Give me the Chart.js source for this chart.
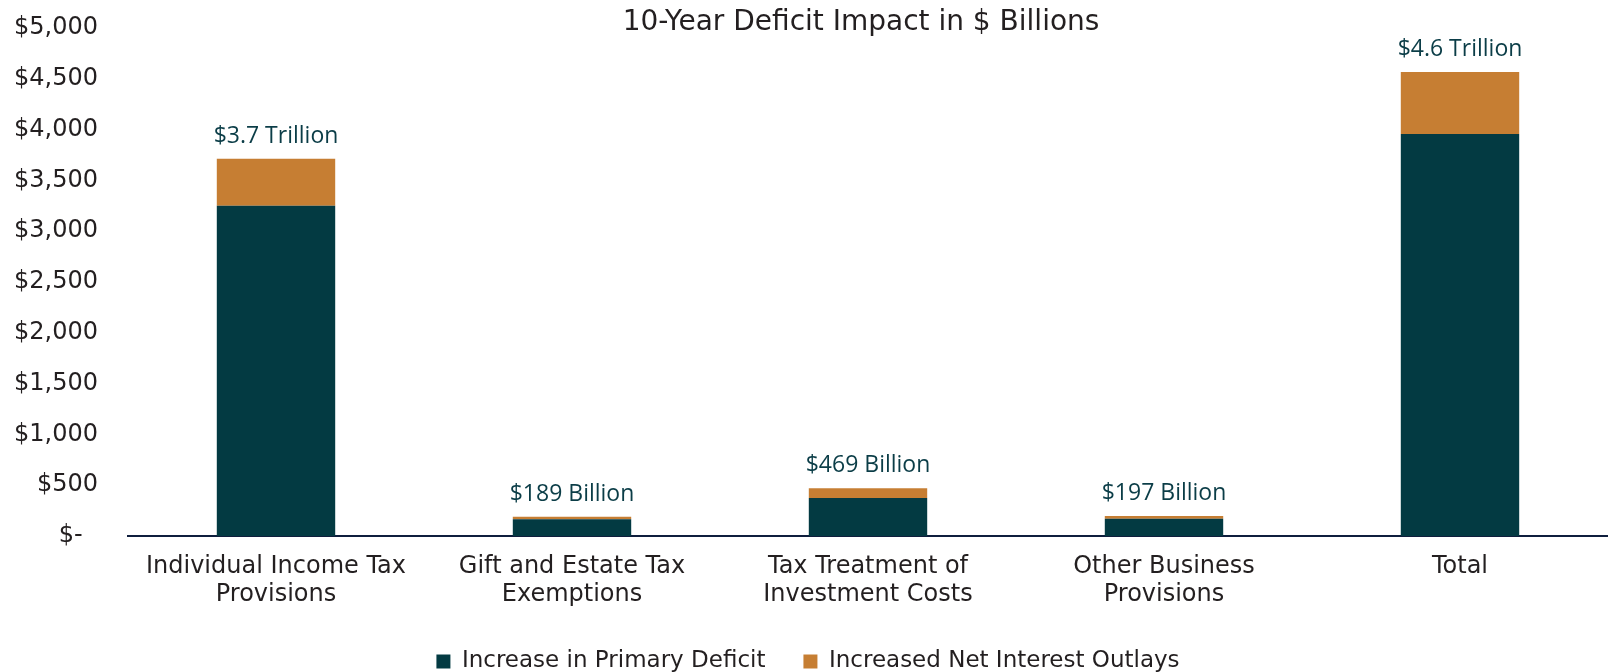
<!DOCTYPE html>
<html>
<head>
<meta charset="utf-8">
<script src="https://cdn.jsdelivr.net/npm/chart.js@4"></script>
<style>
  html, body { margin: 0; padding: 0; background: #fff; }
  #wrap { width: 1608px; height: 672px; position: relative; }
</style>
</head>
<body>
<div id="wrap"><canvas id="myChart"></canvas></div>
<script>
// data ($ billions)
const categories = [
    ['Individual Income Tax', 'Provisions'],
    ['Gift and Estate Tax', 'Exemptions'],
    ['Tax Treatment of', 'Investment Costs'],
    ['Other Business', 'Provisions'],
    'Total'
];
const primaryDeficit = [3250, 164, 373, 170, 3957];
const interestOutlays = [463, 25, 96, 27, 611];
const totalLabels = ['$3.7 Trillion', '$189 Billion', '$469 Billion', '$197 Billion', '$4.6 Trillion'];
const titleText = '10-Year Deficit Impact in $ Billions';

const gothamLike = 'DejaVu Sans';
const textColor = '#231f20';

// title drawn over the plot, and the totals above each bar
const overlay = {
    id: 'overlay',
    afterDatasetsDraw(chart) {
        const ctx = chart.ctx;
        const area = chart.chartArea;
        ctx.save();
        ctx.fillStyle = textColor;
        ctx.font = '28px "' + gothamLike + '"';
        ctx.textAlign = 'center';
        ctx.textBaseline = 'middle';
        ctx.fillText(titleText, (area.left + area.right) / 2 - 7, 23);

        const meta = chart.getDatasetMeta(chart.data.datasets.length - 1);
        ctx.fillStyle = '#0b3d47';
        ctx.font = '23px "Open Sans"';
        ctx.textBaseline = 'alphabetic';
        meta.data.forEach((bar, i) => {
            ctx.fillText(totalLabels[i], bar.x, bar.y - 16);
        });
        ctx.restore();
    }
};

const ctx = document.getElementById('myChart').getContext('2d');
const myChart = new Chart(ctx, {
    type: 'bar',
    data: {
        labels: categories,
        datasets: [{
            label: 'Increase in Primary Deficit',
            data: primaryDeficit,
            backgroundColor: '#033a42',
            barPercentage: 0.4,
            categoryPercentage: 1.0
        }, {
            label: 'Increased Net Interest Outlays',
            data: interestOutlays,
            backgroundColor: '#c67e33',
            barPercentage: 0.4,
            categoryPercentage: 1.0
        }]
    },
    options: {
        responsive: true,
        maintainAspectRatio: false,
        animation: false,
        layout: {
            padding: { top: 28, left: 0, right: -8, bottom: -11 }
        },
        plugins: {
            legend: {
                position: 'bottom',
                labels: {
                    color: textColor,
                    font: { family: gothamLike, size: 23 },
                    boxWidth: 14,
                    boxHeight: 14,
                    padding: 38
                }
            },
            tooltip: { enabled: false }
        },
        scales: {
            x: {
                stacked: true,
                grid: { display: false, drawTicks: false },
                border: { display: true, color: '#0f1e3d', width: 2 },
                ticks: {
                    color: textColor,
                    padding: 16,
                    maxRotation: 0,
                    autoSkip: false,
                    font: { family: gothamLike, size: 24, lineHeight: 1.2 }
                },
                afterFit: (scale) => { scale.height = 76; }
            },
            y: {
                stacked: true,
                min: 0,
                max: 5000,
                grid: { display: false, drawTicks: false },
                border: { display: false },
                ticks: {
                    stepSize: 500,
                    color: textColor,
                    padding: 30,
                    font: { family: gothamLike, size: 24 },
                    callback: (v) => v === 0 ? '$-  ' : '$' + v.toLocaleString('en-US')
                },
                afterFit: (scale) => {
                    scale.width = 128;
                    scale.paddingTop = 0;
                    scale.paddingBottom = 0;
                }
            }
        }
    },
    plugins: [overlay]
});
</script>
</body>
</html>
